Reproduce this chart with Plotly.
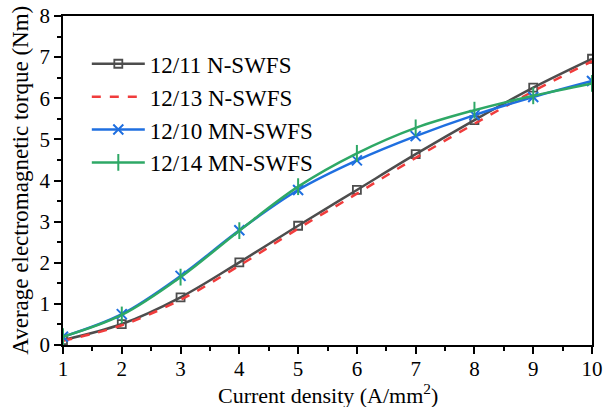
import plotly.graph_objects as go

current_density = [1, 2, 3, 4, 5, 6, 7, 8, 9, 10]
n_swfs_12_11 = [0.12, 0.51, 1.16, 2.01, 2.90, 3.77, 4.64, 5.47, 6.26, 6.96]
n_swfs_12_13 = [0.10, 0.48, 1.10, 1.93, 2.83, 3.68, 4.55, 5.38, 6.17, 6.90]
mn_swfs_12_10 = [0.20, 0.75, 1.68, 2.79, 3.77, 4.49, 5.08, 5.59, 6.03, 6.42]
mn_swfs_12_14 = [0.20, 0.73, 1.65, 2.78, 3.85, 4.66, 5.28, 5.71, 6.06, 6.36]

x_title = "Current density (A/mm<sup>2</sup>)"
y_title = "Average electromagnetic torque (Nm)"

FONT = "Liberation Serif, Times New Roman, serif"

fig = go.Figure()
fig.add_trace(go.Scatter(
    x=current_density, y=n_swfs_12_11, name="12/11 N-SWFS", mode="lines+markers",
    line=dict(color="#4d4d4d", width=2.5, shape="spline"),
    marker=dict(symbol="square-open", size=8, color="#4d4d4d", line=dict(width=1.8))))
fig.add_trace(go.Scatter(
    x=current_density, y=n_swfs_12_13, name="12/13 N-SWFS", mode="lines",
    line=dict(color="#f03c3c", width=2.5, dash="dash", shape="spline")))
fig.add_trace(go.Scatter(
    x=current_density, y=mn_swfs_12_10, name="12/10 MN-SWFS", mode="lines+markers",
    line=dict(color="#1f6fe0", width=2.5, shape="spline"),
    marker=dict(symbol="x-thin", size=10, color="#1f6fe0", line=dict(width=2, color="#1f6fe0"))))
fig.add_trace(go.Scatter(
    x=current_density, y=mn_swfs_12_14, name="12/14 MN-SWFS", mode="lines+markers",
    line=dict(color="#2ea866", width=2.5, shape="spline"),
    marker=dict(symbol="line-ns", size=12, color="#2ea866", line=dict(width=2, color="#2ea866"))))

axis_common = dict(
    showline=True, linecolor="black", linewidth=1.5, mirror=True,
    ticks="outside", ticklen=7, tickwidth=1.5, tickcolor="black",
    showgrid=False, zeroline=False, automargin=False,
    tickfont=dict(family=FONT, size=21, color="black"),
)
fig.update_xaxes(
    range=[1, 10], tickmode="linear", tick0=1, dtick=1, ticklabelstandoff=-3,
    minor=dict(ticks="outside", ticklen=4, tickwidth=1.5, tickcolor="black", dtick=0.5, tick0=1),
    **axis_common)
fig.update_yaxes(
    range=[0, 8], tickmode="linear", tick0=0, dtick=1,
    minor=dict(ticks="outside", ticklen=4, tickwidth=1.5, tickcolor="black", dtick=0.5, tick0=0),
    **axis_common)

fig.add_annotation(text=x_title, xref="paper", yref="paper", x=0.5, y=-0.149,
                   xanchor="center", yanchor="middle", showarrow=False,
                   font=dict(family=FONT, size=22, color="black"))
fig.add_annotation(text=y_title, xref="paper", yref="paper", x=-0.081, y=0.5,
                   xanchor="center", yanchor="middle", showarrow=False, textangle=-90,
                   font=dict(family=FONT, size=23, color="black"))

fig.update_layout(
    width=614, height=407,
    margin=dict(l=63, r=22, t=16, b=62),
    font=dict(family=FONT, size=22, color="black"),
    plot_bgcolor="white", paper_bgcolor="white",
    showlegend=True,
    legend=dict(x=0.045, y=0.92, xanchor="left", yanchor="top",
                font=dict(family=FONT, size=23, color="black"),
                itemwidth=53,
                bgcolor="rgba(0,0,0,0)", tracegroupgap=0),
)
fig.write_html("out.html")
